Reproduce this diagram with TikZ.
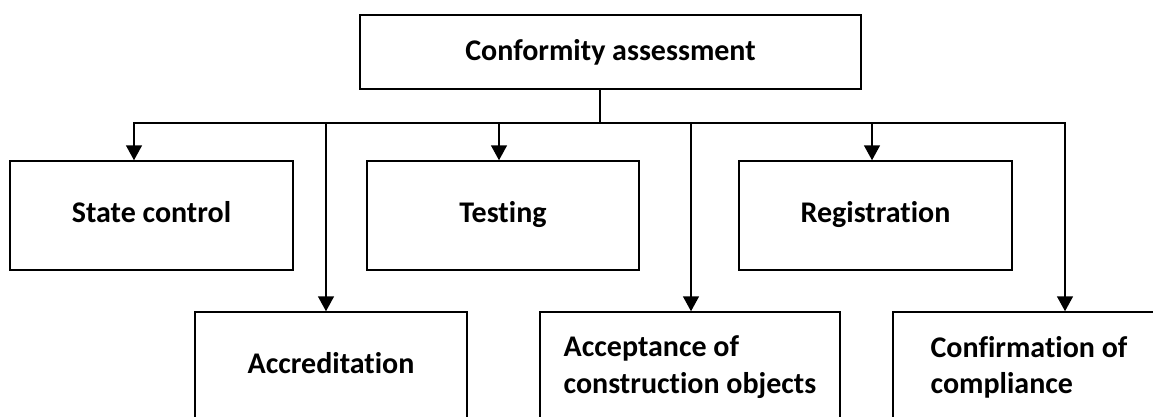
\documentclass[tikz,border=0pt]{standalone}
\usepackage{fontspec}
\setmainfont{Carlito}[Ligatures=NoCommon]
\usetikzlibrary{arrows.meta}
\begin{document}
\begin{tikzpicture}[x=1pt,y=-1pt,
  box/.style={draw=black, line width=1.5pt, fill=white, inner sep=0pt},
  lbl/.style={font=\fontsize{30}{36.3}\selectfont\bfseries, text=black},
  one/.style={lbl, text height=#1, text depth=0pt},
  one/.default=13.4pt,
  link/.style={line width=1.6pt, draw=black},
  arr/.style={link, -{Triangle[width=16pt,length=15pt]}}]
\useasboundingbox (0,0) rectangle (1153,417);
\clip (0,0) rectangle (1153,417);
% boxes
\node[box, one=17.4pt, minimum width=501pt, minimum height=74pt] (top) at (610.5,52) {Conformity assessment};
\node[box, one, minimum width=283pt, minimum height=109pt] (state) at (151.5,215.5) {State control};
\node[box, one, minimum width=272pt, minimum height=109pt] (test) at (503,215.5) {Testing};
\node[box, one, minimum width=273pt, minimum height=109pt] (reg) at (875.5,215.5) {Registration};
\node[box, one, minimum width=272pt, minimum height=110pt] (accr) at (331,367) {Accreditation};
\node[box, minimum width=300pt, minimum height=110pt] (acc) at (690,367) {};
\node[box, minimum width=272pt, minimum height=110pt] (conf) at (1029,367) {};
\node[lbl, align=left] (acct) at (acc.center) {Acceptance of\\construction objects};
\node[lbl, align=left] (conft) at (conf.center) {Confirmation of\\compliance};
% bus points
\coordinate (j) at (600,123);
\coordinate (bL) at (134,123);
\coordinate (b2) at (326,123);
\coordinate (b3) at (499,123);
\coordinate (b4) at (691,123);
\coordinate (b5) at (872,123);
\coordinate (bR) at (1065,123);
% connectors
\draw[link] (top.south -| j) -- (j);
\draw[link, {Triangle[width=16pt,length=15pt]}-{Triangle[width=16pt,length=15pt]}]
  (bL |- state.north) -- (bL) -- (bR) -- (bR |- conf.north);
\draw[arr] (b2) -- (b2 |- accr.north);
\draw[arr] (b3) -- (b3 |- test.north);
\draw[arr] (b4) -- (b4 |- acc.north);
\draw[arr] (b5) -- (b5 |- reg.north);
\end{tikzpicture}
\end{document}
